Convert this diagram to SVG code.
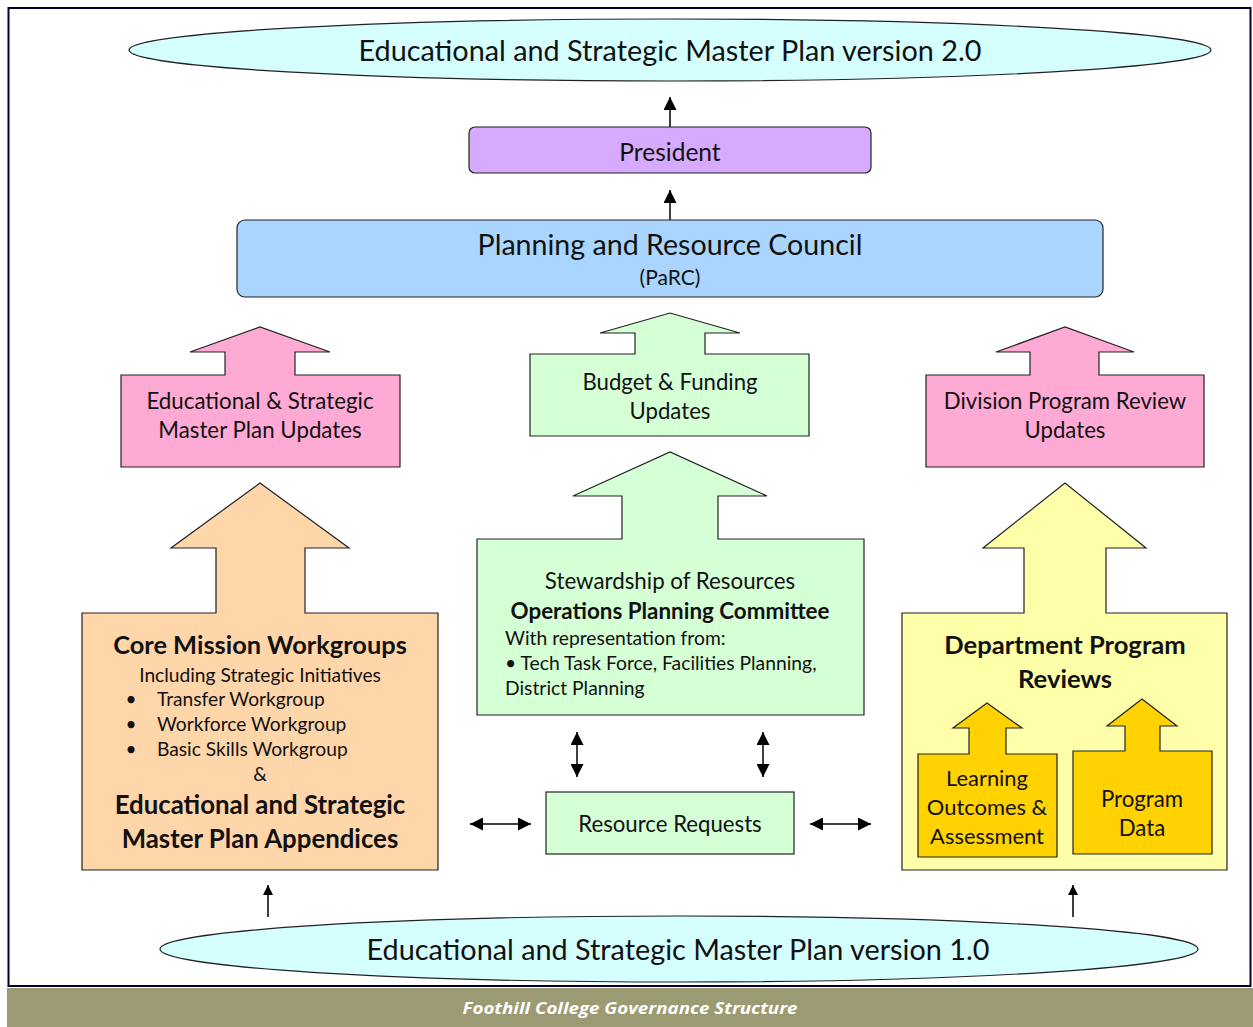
<svg xmlns="http://www.w3.org/2000/svg" width="1253" height="1027" viewBox="0 0 1253 1027">
<defs>
<style>
text{font-family:Lato,"Liberation Sans",sans-serif;fill:#111;}
.c{text-anchor:middle;}
.b{font-weight:bold;}
.shape{stroke:#222;stroke-width:1.2;}
.ln{stroke:#000;stroke-width:1.5;fill:none;}
</style>
<marker id="ah" viewBox="0 0 10 10" refX="10" refY="5" markerWidth="10" markerHeight="10" markerUnits="userSpaceOnUse" orient="auto-start-reverse"><path d="M0,0 L10,5 L0,10 Z" fill="#000"/></marker>
<marker id="ahb" viewBox="0 0 10 10" refX="10" refY="5" markerWidth="13" markerHeight="13" markerUnits="userSpaceOnUse" orient="auto-start-reverse"><path d="M0,0 L10,5 L0,10 Z" fill="#000"/></marker>
</defs>
<rect width="1253" height="1027" fill="#fff"/>
<rect x="8.5" y="8" width="1242" height="978" fill="#fff" stroke="#000033" stroke-width="2"/>
<rect x="7" y="988" width="1246" height="39" fill="#9c9a72"/>
<text x="630" y="1014" class="c b" style="font-style:italic;font-size:16px;fill:#fff;font-family:'Open Sans','Liberation Sans',sans-serif" textLength="335" lengthAdjust="spacingAndGlyphs">Foothill College Governance Structure</text>

<g id="connectors">
<line class="ln" x1="670" y1="127" x2="670" y2="97" marker-end="url(#ahb)"/>
<line class="ln" x1="670" y1="220" x2="670" y2="190" marker-end="url(#ahb)"/>
<line class="ln" x1="577" y1="777" x2="577" y2="732" marker-start="url(#ahb)" marker-end="url(#ahb)"/>
<line class="ln" x1="763" y1="777" x2="763" y2="732" marker-start="url(#ahb)" marker-end="url(#ahb)"/>
<line class="ln" x1="470" y1="824" x2="531" y2="824" marker-start="url(#ahb)" marker-end="url(#ahb)"/>
<line class="ln" x1="810" y1="824" x2="871" y2="824" marker-start="url(#ahb)" marker-end="url(#ahb)"/>
<line class="ln" x1="268" y1="917" x2="268" y2="885" marker-end="url(#ah)"/>
<line class="ln" x1="1073" y1="917" x2="1073" y2="885" marker-end="url(#ah)"/>
</g>

<g id="plan2">
<ellipse cx="670" cy="50" rx="541" ry="31" fill="#d5ffff" class="shape"/>
<text x="670" y="61" class="c" style="font-size:28.8px">Educational and Strategic Master Plan version 2.0</text>
</g>

<g id="president">
<rect x="469" y="127" width="402" height="46" rx="6" fill="#d5aaff" class="shape"/>
<text x="670" y="161" class="c" style="font-size:24.5px">President</text>
</g>

<g id="parc">
<rect x="237" y="220" width="866" height="77" rx="8" fill="#aad5ff" class="shape"/>
<text x="670" y="255" class="c" style="font-size:28.6px">Planning and Resource Council</text>
<text x="670" y="285" class="c" style="font-size:21px">(PaRC)</text>
</g>

<g id="esmp-updates">
<path d="M121,375 H225 V352 H190 L260,327 L330,352 H295 V375 H400 V467 H121 Z" fill="#ffaad5" class="shape"/>
<text x="260" y="409" class="c" style="font-size:22.3px">Educational &amp; Strategic</text>
<text x="260" y="438" class="c" style="font-size:22.3px">Master Plan Updates</text>
</g>

<g id="budget-updates">
<path d="M530,354 H635 V333 H600 L670,313 L740,333 H705 V354 H809 V436 H530 Z" fill="#d5ffd5" class="shape"/>
<text x="670" y="390" class="c" style="font-size:22.2px">Budget &amp; Funding</text>
<text x="670" y="419" class="c" style="font-size:22.2px">Updates</text>
</g>

<g id="division-updates">
<path d="M926,375 H1030 V352 H996 L1065,327 L1134,352 H1099 V375 H1204 V467 H926 Z" fill="#ffaad5" class="shape"/>
<text x="1065" y="409" class="c" style="font-size:22.2px">Division Program Review</text>
<text x="1065" y="438" class="c" style="font-size:22.2px">Updates</text>
</g>

<g id="core-mission">
<path d="M82,613 H216 V548 H171 L260,483 L349,548 H305 V613 H438 V870 H82 Z" fill="#ffd5aa" class="shape"/>
<text x="260" y="654" class="c b" style="font-size:25.4px">Core Mission Workgroups</text>
<text x="260" y="682" class="c" style="font-size:19.2px">Including Strategic Initiatives</text>
<text x="131" y="706" class="c" style="font-size:19px">•</text>
<text x="157" y="706" style="font-size:19.2px">Transfer Workgroup</text>
<text x="131" y="731" class="c" style="font-size:19px">•</text>
<text x="157" y="731" style="font-size:19.2px">Workforce Workgroup</text>
<text x="131" y="756" class="c" style="font-size:19px">•</text>
<text x="157" y="756" style="font-size:19.2px">Basic Skills Workgroup</text>
<text x="260" y="781" class="c" style="font-size:19.2px">&amp;</text>
<text x="260" y="814" class="c b" style="font-size:25.8px">Educational and Strategic</text>
<text x="260" y="848" class="c b" style="font-size:25.8px">Master Plan Appendices</text>
</g>

<g id="operations">
<path d="M477,539 H622 V496 H573 L670,452 L767,496 H718 V539 H864 V715 H477 Z" fill="#d5ffd5" class="shape"/>
<text x="670" y="589" class="c" style="font-size:22.3px">Stewardship of Resources</text>
<text x="670" y="619" class="c b" style="font-size:22.4px">Operations Planning Committee</text>
<text x="505" y="645" style="font-size:19.3px">With representation from:</text>
<text x="505" y="670" style="font-size:19.3px">• Tech Task Force, Facilities Planning,</text>
<text x="505" y="695" style="font-size:19.3px">District Planning</text>
</g>

<g id="department">
<path d="M902,613 H1024 V548 H983 L1065,483 L1146,548 H1106 V613 H1227 V870 H902 Z" fill="#ffffaa" class="shape"/>
<text x="1065" y="654" class="c b" style="font-size:25.6px">Department Program</text>
<text x="1065" y="688" class="c b" style="font-size:25.6px">Reviews</text>
</g>

<g id="learning">
<path d="M918,754 H969 V728 H953 L987,703 L1022,728 H1006 V754 H1057 V857 H918 Z" fill="#ffd200" class="shape"/>
<text x="987" y="786" class="c" style="font-size:21.9px">Learning</text>
<text x="987" y="815" class="c" style="font-size:21.9px">Outcomes &amp;</text>
<text x="987" y="844" class="c" style="font-size:21.9px">Assessment</text>
</g>

<g id="program-data">
<path d="M1073,751 H1125 V726 H1107 L1142,699 L1177,726 H1160 V751 H1212 V854 H1073 Z" fill="#ffd200" class="shape"/>
<text x="1142" y="807" class="c" style="font-size:22.2px">Program</text>
<text x="1142" y="836" class="c" style="font-size:22.2px">Data</text>
</g>

<g id="resource-requests">
<rect x="546" y="792" width="248" height="62" fill="#d5ffd5" class="shape"/>
<text x="670" y="832" class="c" style="font-size:22.2px">Resource Requests</text>
</g>

<g id="plan1">
<ellipse cx="679" cy="949" rx="519" ry="33" fill="#d5ffff" class="shape"/>
<text x="678" y="960" class="c" style="font-size:28.8px">Educational and Strategic Master Plan version 1.0</text>
</g>
</svg>
